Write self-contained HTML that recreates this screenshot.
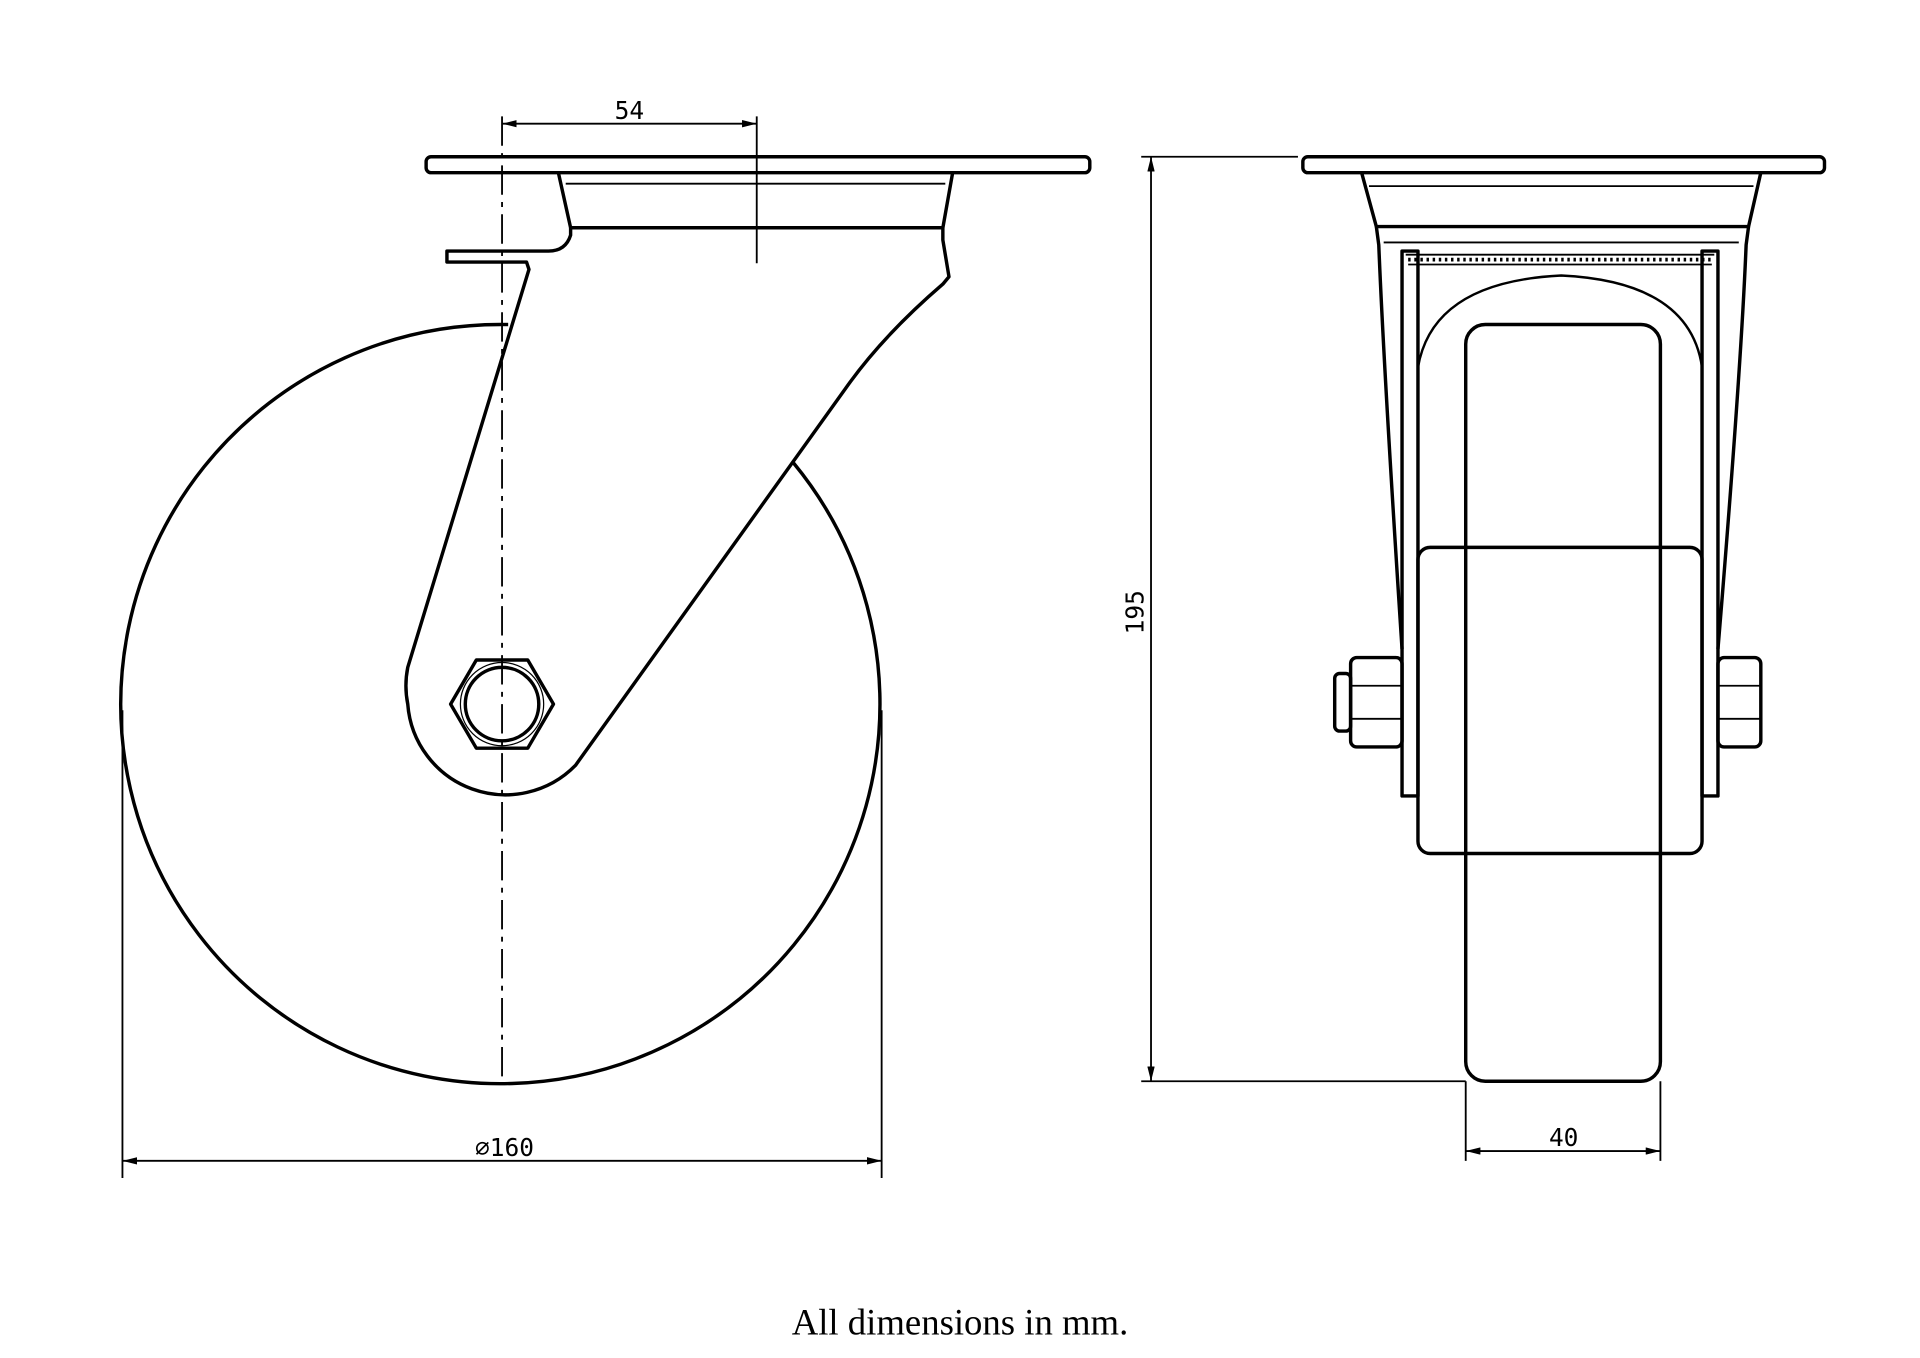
<!DOCTYPE html>
<html><head><meta charset="utf-8"><style>
html,body{margin:0;padding:0;background:#fff;}
svg{display:block;}
text{font-family:"DejaVu Sans Mono","Liberation Mono",monospace;fill:#000;}
</style></head><body>
<svg width="1920" height="1358" viewBox="0 0 1568 1109" xmlns="http://www.w3.org/2000/svg">
<defs>
<marker id="a" viewBox="0 0 12 6" refX="12" refY="3" markerWidth="12" markerHeight="6" orient="auto-start-reverse" markerUnits="userSpaceOnUse"><path d="M0,0 L12,3 L0,6 z" fill="#000"/></marker>
</defs>
<g fill="none" stroke="#000" stroke-width="2.8" stroke-linejoin="round">
<!-- LEFT VIEW -->
<rect x="348" y="128" width="542" height="13" rx="4"/>
<path d="M456,141 L466,186 L770,186 L778,141"/>
<path d="M462,150 L772,150" stroke-width="1.5"/>
<path d="M410,265 A310,310 0 1 0 648,378"/>
<path d="M466,186 L466,192 Q462,205 448,205 L365,205 L365,214 L430,214 L432,220 L333,545 Q330,560 333,575 A80,80 0 0 0 470,625 L690,318 Q720,275 770,232 L775,226 L770,196 L770,186"/>
<path d="M410,265 L415,265"/>
<polygon points="452,575 431,611 389,611 368,575 389,539 431,539"/>
<circle cx="410" cy="575" r="30"/>
<circle cx="410" cy="575" r="34" stroke-width="1"/>
<path d="M410,95 L410,885" stroke-width="1.5" stroke-dasharray="24,6,4,6"/>
<path d="M618,95 L618,215" stroke-width="1.5"/>
<path d="M410,101 L618,101" stroke-width="1.5" marker-start="url(#a)" marker-end="url(#a)"/>
<path d="M100,580 L100,962 M720,580 L720,962" stroke-width="1.5"/>
<path d="M100,948 L720,948" stroke-width="1.5" marker-start="url(#a)" marker-end="url(#a)"/>

<!-- RIGHT VIEW -->
<rect x="1064" y="128" width="426" height="13" rx="4"/>
<path d="M1112,141 L1124,185 L1428,185 L1438,141"/>
<path d="M1118,152 L1432,152" stroke-width="1.5"/>
<path d="M1124,185 L1126,200 Q1130,300 1145,530"/>
<path d="M1428,185 L1426,200 Q1422,300 1403,530"/>
<path d="M1130,198 L1420,198 M1148,208 L1400,208 M1150,216 L1398,216" stroke-width="1.5"/>
<path d="M1150,212 L1398,212" stroke-width="3" stroke-dasharray="2,3"/>
<rect x="1145" y="205" width="13" height="445"/>
<rect x="1390" y="205" width="13" height="445"/>
<path d="M1158,300 Q1170,230 1275,225 Q1380,230 1390,300" stroke-width="2"/>
<rect x="1197" y="265" width="159" height="618" rx="16"/>
<rect x="1158" y="447" width="232" height="250" rx="10"/>
<rect x="1103" y="537" width="42" height="73" rx="5"/>
<path d="M1103,560 L1145,560 M1103,587 L1145,587" stroke-width="1.5"/>
<rect x="1090" y="550" width="13" height="47" rx="4"/>
<rect x="1403" y="537" width="35" height="73" rx="5"/>
<path d="M1403,560 L1438,560 M1403,587 L1438,587" stroke-width="1.5"/>
<path d="M932,128 L1060,128 M932,883 L1197,883" stroke-width="1.5"/>
<path d="M940,128 L940,883" stroke-width="1.5" marker-start="url(#a)" marker-end="url(#a)"/>
<path d="M1197,883 L1197,948 M1356,883 L1356,948" stroke-width="1.5"/>
<path d="M1197,940 L1356,940" stroke-width="1.5" marker-start="url(#a)" marker-end="url(#a)"/>
</g>
<text x="514" y="97" font-size="20" text-anchor="middle">54</text>
<text x="412" y="944" font-size="20" text-anchor="middle">⌀160</text>
<text x="1277" y="936" font-size="20" text-anchor="middle">40</text>
<text x="0" y="0" font-size="20" text-anchor="middle" transform="translate(934,500) rotate(-90)">195</text>
<text x="784" y="1090" font-size="30" text-anchor="middle" style="font-family:'Liberation Serif',serif">All dimensions in mm.</text>
</svg>
</body></html>
